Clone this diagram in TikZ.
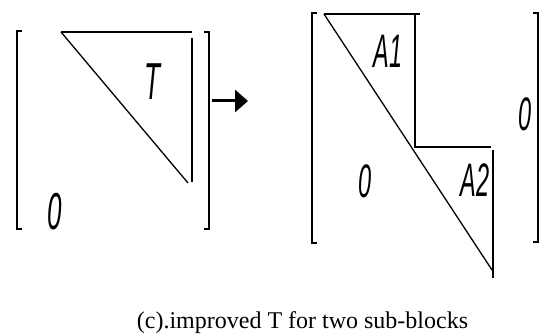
\documentclass[tikz,border=0pt]{standalone}
\usepackage{fontspec}
\setmainfont{Liberation Serif}
\newfontfamily\glyphfont{Liberation Sans}
\usetikzlibrary{arrows.meta}
\tikzset{
  thickline/.style={line width=2.4pt},
  thinline/.style={line width=1.1pt},
  diagline/.style={line width=1.3pt},
  bracket/.style={line width=1.6pt},
  glyph/.style={inner sep=0pt, font=\glyphfont\itshape\fontsize{47}{47}\selectfont},
  bigglyph/.style={inner sep=0pt, font=\glyphfont\itshape\fontsize{52}{52}\selectfont},
  caption/.style={inner sep=0pt, anchor=base, font=\fontsize{24}{26}\selectfont}
}
\newcommand{\narrow}[1]{\scalebox{0.5}[1]{#1}}
\begin{document}
\begin{tikzpicture}[x=1pt,y=-1pt]
\useasboundingbox (0,0) rectangle (551,336);
% left matrix
\coordinate (lt1) at (61,32);
\coordinate (lt2) at (192,32);
\coordinate (ld2) at (188,183);
\coordinate (lv1) at (192,38);
\coordinate (lv2) at (192,182);
\draw[bracket] (22,31) -- (17,31) -- (17,229) -- (22,229);
\draw[bracket] (204,32) -- (209,32) -- (209,229) -- (204,229);
\draw[thickline] (lt1) -- (lt2);
\draw[diagline] (lt1) -- (ld2);
\draw[thinline] (lv1) -- (lv2);
\node[bigglyph] (T) at (152,82) {\narrow{T}};
\node[bigglyph] (z1) at (55,212) {\narrow{0}};
% arrow
\coordinate (a1) at (212,101);
\coordinate (a2) at (248,101);
\draw[line width=3pt,-{Triangle[length=13pt,width=22pt]}] (a1) -- (a2);
% right matrix
\draw[bracket] (317,13) -- (312,13) -- (312,243) -- (317,243);
\draw[bracket] (533,13) -- (538,13) -- (538,242) -- (533,242);
\coordinate (r1) at (324,14);
\coordinate (r2) at (420,14);
\coordinate (rv1) at (415,14);
\coordinate (rv2) at (415,148);
\coordinate (rd) at (492,270);
\coordinate (s1) at (415,147);
\coordinate (s2) at (491,147);
\coordinate (sv1) at (493,150);
\coordinate (sv2) at (493,278);
\draw[thickline] (r1) -- (r2);
\draw[thinline] (rv1) -- (rv2);
\draw[diagline] (r1) -- (rd);
\draw[thickline] (s1) -- (s2);
\draw[thinline] (sv1) -- (sv2);
\node[glyph] (A1) at (388,51) {\narrow{A1}};
\node[glyph] (A2) at (475,180) {\narrow{A2}};
\node[glyph] (z2) at (365,181) {\narrow{0}};
\node[glyph] (z3) at (525,114) {\narrow{0}};
% caption
\node[caption] (cap) at (302.5,328) {(c).improved T for two sub-blocks};
\end{tikzpicture}
\end{document}
